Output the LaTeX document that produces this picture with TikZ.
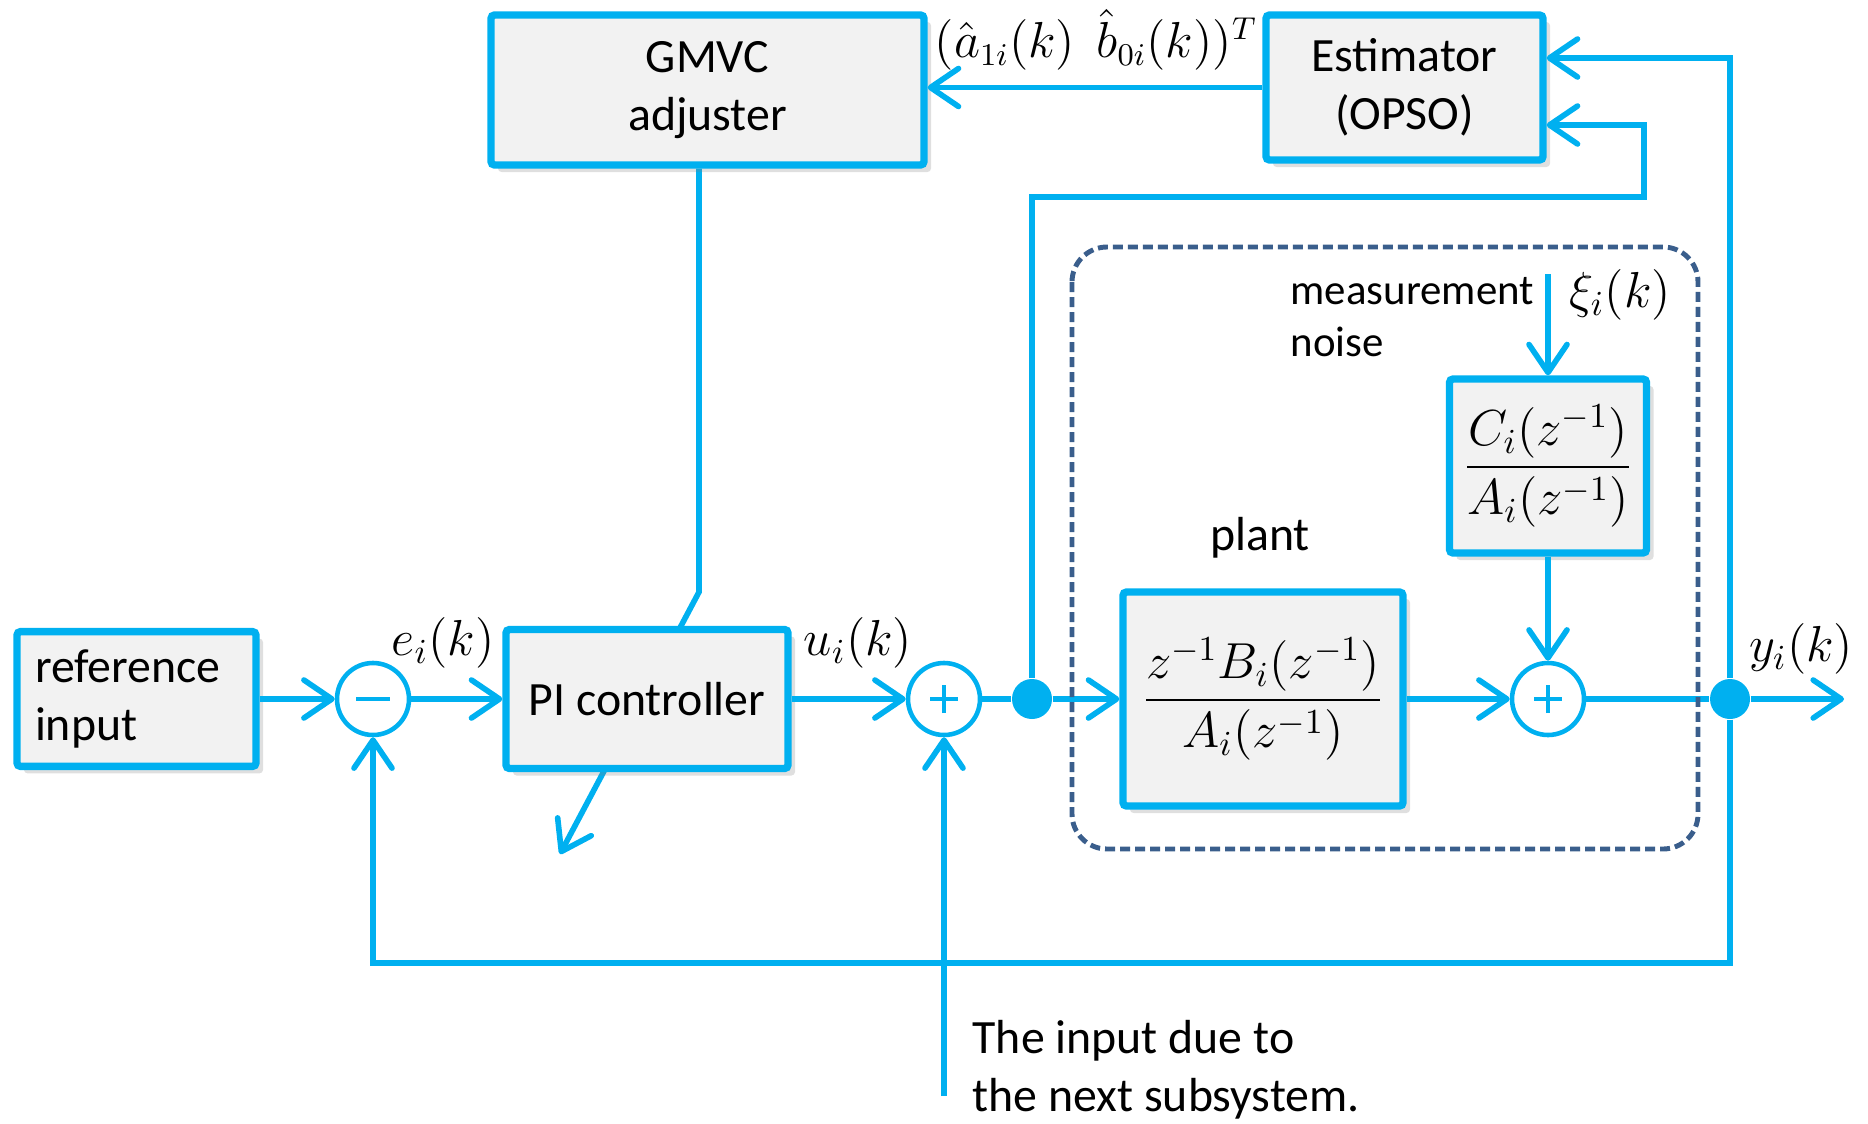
\documentclass[tikz,border=0pt]{standalone}
\usepackage{amsmath}
\usepackage{fontspec}
\setmainfont{Carlito}
\usetikzlibrary{arrows.meta, positioning, backgrounds, shadows, calc}
\definecolor{linkblue}{HTML}{00B0F0}
\definecolor{boxgray}{HTML}{F2F2F2}
\definecolor{slateblue}{HTML}{3A5E8C}

\begin{document}
\begin{tikzpicture}[font=\fontsize{13.6}{16.6}\selectfont]

\tikzset{
  block/.style={rectangle, draw=linkblue, line width=2.1pt, fill=boxgray,
    rounded corners=1pt, align=center,
    drop shadow={opacity=0.25, shadow xshift=0.7mm, shadow yshift=-0.7mm}},
  sumnode/.style={circle, draw=linkblue, line width=1.3pt, fill=white,
    minimum size=0.72cm, inner sep=0pt},
  summinus/.style={sumnode, path picture={
    \draw[linkblue, line width=0.9pt]
      ([xshift=-1.7mm]path picture bounding box.center) --
      ([xshift=1.7mm]path picture bounding box.center);}},
  sumplus/.style={sumnode, path picture={
    \draw[linkblue, line width=0.9pt]
      ([xshift=-1.4mm]path picture bounding box.center) --
      ([xshift=1.4mm]path picture bounding box.center)
      ([yshift=-1.4mm]path picture bounding box.center) --
      ([yshift=1.4mm]path picture bounding box.center);}},
  dotnode/.style={circle, fill=linkblue, minimum size=0.40cm, inner sep=0pt},
  conn/.style={draw=linkblue, line width=1.6pt},
  arrow/.style={conn, -{Straight Barb[length=2.8mm, width=3.8mm, round]}},
  sig/.style={inner sep=1pt, font=\fontsize{14}{17}\selectfont},
  tf/.style={block, inner sep=0.08cm, font=\fontsize{14.4}{17}\selectfont},
  note/.style={inner sep=0pt, anchor=west, align=left},
  region/.style={draw=slateblue, line width=1.4pt,
    dash pattern=on 1mm off 0.5mm, rounded corners=3.5mm}
}

\useasboundingbox (0,0) rectangle (18.68,-11.23);

\node[block, minimum width=2.39cm, minimum height=1.34cm, align=left,
  text width=2.03cm, inner sep=0.18cm] (ref)
  at (1.365,-6.99) {reference\\input};
\node[summinus] (diff) at (3.73,-6.99) {};
\node[block, minimum width=2.82cm, minimum height=1.39cm] (pi)
  at (6.47,-6.99) {PI controller};
\node[sumplus] (sumu) at (9.44,-6.99) {};
\node[dotnode] (tapu) at (10.32,-6.99) {};
\node[tf, minimum width=2.80cm, minimum height=2.14cm] (plant)
  at (12.63,-6.99) {$\dfrac{z^{-1}B_i(z^{-1})}{A_i(z^{-1})}$};
\node[sumplus] (sumy) at (15.48,-6.99) {};
\node[dotnode] (tapy) at (17.30,-6.99) {};
\node[tf, minimum width=1.97cm, minimum height=1.74cm] (noisetf)
  at (15.48,-4.66) {$\dfrac{C_i(z^{-1})}{A_i(z^{-1})}$};
\node[block, minimum width=4.33cm, minimum height=1.50cm] (gmvc)
  at (7.075,-0.90) {GMVC\\adjuster};
\node[block, minimum width=2.77cm, minimum height=1.45cm] (est)
  at (14.045,-0.875) {Estimator\\(OPSO)};

\node[sig] (err) at (4.43,-6.43) {$e_i(k)$};
\node[sig] (ctl) at (8.58,-6.43) {$u_i(k)$};
\node[sig] (out) at (18.01,-6.49) {$y_i(k)$};
\node[sig] (xi) at (16.20,-2.95) {$\xi_i(k)$};
\node[sig, font=\fontsize{13.4}{16}\selectfont] (params) at (10.96,-0.40)
  {$(\hat{a}_{1i}(k)\ \ \hat{b}_{0i}(k))^T$};
\node (plantlbl) at (12.60,-5.38) {plant};
\node[note, font=\fontsize{12.2}{15}\selectfont] (noiselbl) at (12.90,-3.17)
  {measurement\\noise};
\node[note] (nextlbl) at (9.72,-10.70) {The input due to\\the next subsystem.};

\coordinate (bend) at (6.99,-5.92);
\coordinate (tunetip) at (5.60,-8.54);
\coordinate (noisein) at (15.48,-2.74);
\coordinate (nextin) at (9.44,-10.96);
\coordinate (yend) at (18.44,-6.99);
\coordinate (fbcorner) at (17.30,-9.63);
\coordinate (estloop) at (16.44,-1.97);

\begin{scope}[on background layer]
  \draw[arrow] (gmvc.south -| bend) -- (bend) -- (tunetip);
\end{scope}

\draw[arrow] (ref) -- (diff);
\draw[arrow] (diff) -- (pi);
\draw[arrow] (pi) -- (sumu);
\draw[conn] (sumu) -- (tapu);
\draw[arrow] (tapu) -- (plant);
\draw[arrow] (plant) -- (sumy);
\draw[conn] (sumy) -- (tapy);
\draw[arrow] (tapy) -- (yend);
\draw[arrow] (noisein) -- (noisetf);
\draw[arrow] (noisetf) -- (sumy);
\draw[arrow] (nextin) -- (sumu);
\draw[arrow] (tapy) -- (fbcorner) -| (diff);
\draw[arrow] (tapy) |- ([yshift=2.95mm]est.east);
\draw[arrow] (tapu) |- (estloop) |- ([yshift=-3.75mm]est.east);
\draw[arrow] (est) -- (est -| gmvc.east);

\draw[region] (10.72,-2.47) rectangle (16.98,-8.49);

\end{tikzpicture}
\end{document}
